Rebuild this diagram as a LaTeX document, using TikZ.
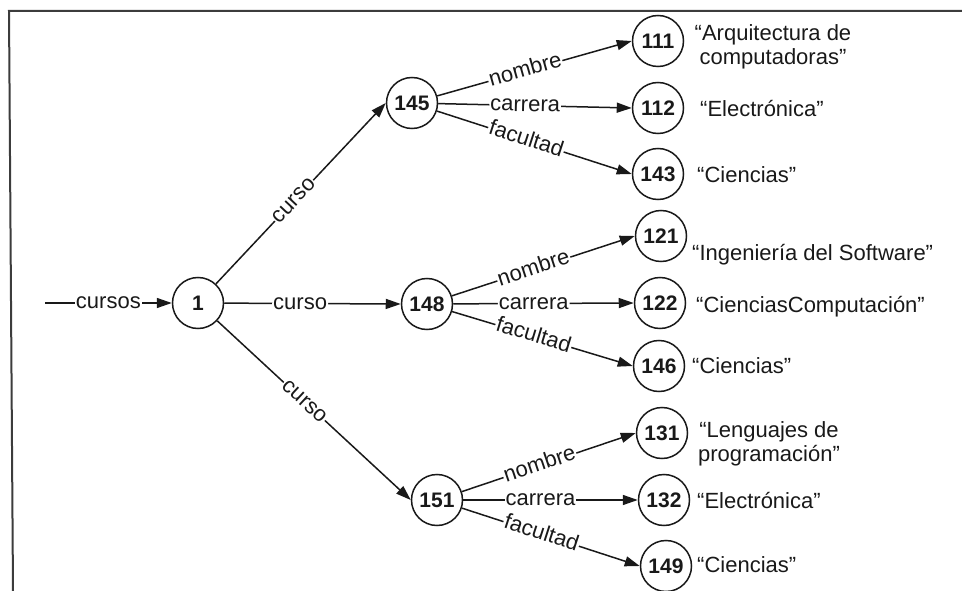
\documentclass[tikz,border=0pt]{standalone}
\usepackage{fontspec}
\setmainfont{Liberation Sans}
\usetikzlibrary{arrows.meta}
\definecolor{ink}{gray}{0.1}
\begin{document}
\begin{tikzpicture}[x=1pt,y=-1pt,
  every node/.style={text=ink},
  obj/.style={circle, draw=ink, line width=1.5pt, minimum size=51pt, inner sep=0pt,
    font=\bfseries\fontsize{21}{24}\selectfont},
  val/.style={inner sep=0pt, font=\fontsize{22}{24}\selectfont},
  rel/.style={draw=ink, line width=1.5pt, -{Triangle[length=15pt,width=10pt]}},
  lbl/.style={fill=white, inner sep=1pt, text height=11.4pt, text depth=0pt, sloped,
    font=\fontsize{22}{24}\selectfont},
  tag/.style={lbl, anchor=west},
]
\useasboundingbox (0,0) rectangle (962,591);
% open frame: top and left rules
\draw[ink!85, line width=2pt] (962,11) -- (9,11) -- (13,591);

% object nodes
\node[obj] (n1)   at (198,303) {1};
\node[obj] (n145) at (412,103) {145};
\node[obj] (n148) at (427,304) {148};
\node[obj] (n151) at (437,500) {151};
\node[obj] (n111) at (658,41)  {111};
\node[obj] (n112) at (658,108) {112};
\node[obj] (n143) at (658,174) {143};
\node[obj] (n121) at (661,236) {121};
\node[obj] (n122) at (660,303) {122};
\node[obj] (n146) at (659,366) {146};
\node[obj] (n131) at (662,433) {131};
\node[obj] (n132) at (664,500) {132};
\node[obj] (n149) at (666,566) {149};
\coordinate (src) at (45,303);

% atomic values
\node[val, anchor=north, align=center] (v111) at (773,24) {“Arquitectura de\\computadoras”};
\node[val, anchor=base west] (v112) at (700,117) {“Electrónica”};
\node[val, anchor=base west] (v143) at (697,183) {“Ciencias”};
\node[val, anchor=base west] (v121) at (692,260) {“Ingeniería del Software”};
\node[val, anchor=base west] (v122) at (696,312) {“CienciasComputación”};
\node[val, anchor=base west] (v146) at (692,373) {“Ciencias”};
\node[val, anchor=north, align=center] (v131) at (769,421) {“Lenguajes de\\programación”};
\node[val, anchor=base west] (v132) at (697,508) {“Electrónica”};
\node[val, anchor=base west] (v149) at (697,572) {“Ciencias”};

% labelled edges
\draw[rel] (src) -- node[lbl, pos=0.5] {cursos} (n1.west);
\draw[rel] (n1) -- node[lbl, pos=0.46] {curso} (n145.west);
\draw[rel] (n1) -- node[lbl, pos=0.43] {curso} (n148.west);
\draw[rel] (n1) -- node[lbl, pos=0.45] {curso} (n151.west);

\draw[rel] (n145) -- node[tag, pos=0.26]  {nombre}   (n111.west);
\draw[rel] (n145) -- node[tag, pos=0.26]  {carrera}  (n112.west);
\draw[rel] (n145) -- node[tag, pos=0.26]  {facultad} (n143.west);

\draw[rel] (n148) -- node[tag, pos=0.245] {nombre}   (n121.west);
\draw[rel] (n148) -- node[tag, pos=0.243] {carrera}  (n122.west);
\draw[rel] (n148) -- node[tag, pos=0.236] {facultad} (n146.west);

\draw[rel] (n151) -- node[tag, pos=0.236] {nombre}   (n131.west);
\draw[rel] (n151) -- node[tag, pos=0.233] {carrera}  (n132.west);
\draw[rel] (n151) -- node[tag, pos=0.23]  {facultad} (n149.west);
\end{tikzpicture}
\end{document}
